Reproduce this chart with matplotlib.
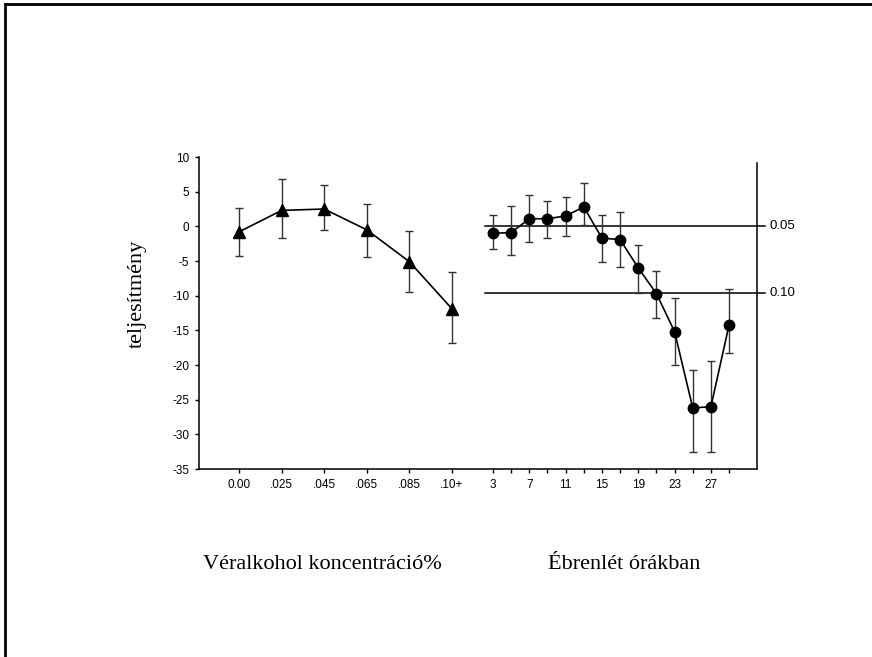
import matplotlib
matplotlib.use("Agg")
import matplotlib.pyplot as plt
from matplotlib.lines import Line2D

# Blood alcohol concentration panel (triangles)
bac_labels = ["0.00", ".025", ".045", ".065", ".085", ".10+"]
bac_mean = [-0.8, 2.3, 2.5, -0.5, -5.1, -11.9]
bac_upper = [2.6, 6.8, 5.9, 3.2, -0.6, -6.6]
bac_lower = [-4.3, -1.7, -0.5, -4.4, -9.4, -16.8]

# Hours awake panel (circles)
hours = [3, 5, 7, 9, 11, 13, 15, 17, 19, 21, 23, 25, 27, 29]
wake_mean = [-1.0, -0.9, 1.1, 1.1, 1.5, 2.8, -1.7, -1.9, -6.0, -9.7, -15.2, -26.2, -26.0, -14.2]
wake_upper = [1.6, 2.9, 4.5, 3.6, 4.3, 6.2, 1.6, 2.0, -2.7, -6.5, -10.4, -20.7, -19.4, -9.0]
wake_lower = [-3.3, -4.2, -2.3, -1.7, -1.4, 0.2, -5.2, -5.9, -9.6, -13.2, -20.0, -32.6, -32.6, -18.3]
hour_labels = [3, 7, 11, 15, 19, 23, 27]

# reference levels (BAC equivalents)
ref_levels = [0.0, -9.6]
ref_labels = ["0.05", "0.10"]

yticks = [10, 5, 0, -5, -10, -15, -20, -25, -30, -35]

# layout of the shared x axis: BAC categories at 0..5, hours after them
HOUR_ORIGIN = 5.962
HOUR_STEP = 0.2132


def hour_pos(h):
    return HOUR_ORIGIN + (h - 3) * HOUR_STEP


serif = ["Liberation Serif", "DejaVu Serif"]
sans = ["Liberation Sans", "DejaVu Sans"]

fig = plt.figure(figsize=(8.72, 6.57), dpi=100)
ax = fig.add_axes([0.2282, 0.2861, 0.8681 - 0.2282, 0.4749])

bac_x = list(range(len(bac_labels)))
bac_err = [[m - lo for m, lo in zip(bac_mean, bac_lower)],
           [hi - m for m, hi in zip(bac_mean, bac_upper)]]
ax.errorbar(bac_x, bac_mean, yerr=bac_err, fmt="^-", color="black",
            ecolor="#333333", elinewidth=1, capsize=3, capthick=1,
            linewidth=1.2, markersize=9, zorder=3)

wake_x = [hour_pos(h) for h in hours]
wake_err = [[m - lo for m, lo in zip(wake_mean, wake_lower)],
            [hi - m for m, hi in zip(wake_mean, wake_upper)]]
ax.errorbar(wake_x, wake_mean, yerr=wake_err, fmt="o-", color="black",
            ecolor="#333333", elinewidth=1, capsize=3, capthick=1,
            linewidth=1.2, markersize=7.5, zorder=3)

# reference lines across the hours panel
for level, lab in zip(ref_levels, ref_labels):
    ax.plot([5.775, 12.35], [level, level], color="black", linewidth=1.1,
            clip_on=False)
    ax.text(12.45, level, lab, fontsize=9.5, family=sans, va="center",
            ha="left")

ax.set_xlim(-0.939, 12.16)
ax.set_ylim(-35, 10)

ax.spines["top"].set_visible(False)
ax.spines["right"].set_bounds(-35, 9.2)
for sp in ax.spines.values():
    sp.set_linewidth(1.1)

xt = bac_x + wake_x
xl = bac_labels + [str(h) if h in hour_labels else "" for h in hours]
ax.set_xticks(xt)
ax.set_xticklabels(xl, family=sans, fontsize=8.5)
ax.set_yticks(yticks)
ax.set_yticklabels([str(v) for v in yticks], family=sans, fontsize=8.5)
ax.tick_params(axis="both", direction="out", length=3, width=1, pad=4)

fig.text(0.157, 0.553, "teljesítmény", family=serif, fontsize=16,
         rotation=90, ha="center", va="center")

fig.text(0.370, 0.141, "Véralkohol koncentráció%", family=serif,
         fontsize=16, ha="center", va="center")
fig.text(0.716, 0.141, "Ébrenlét órákban", family=serif,
         fontsize=16, ha="center", va="center")

# frame lines along the top and left edge
fig.add_artist(Line2D([0.0063, 1.0], [0.9939, 0.9939], color="black",
                      linewidth=2, transform=fig.transFigure))
fig.add_artist(Line2D([0.0063, 0.0063], [0.0, 0.9939], color="black",
                      linewidth=2, transform=fig.transFigure))

fig.savefig("out.png", dpi=100)
